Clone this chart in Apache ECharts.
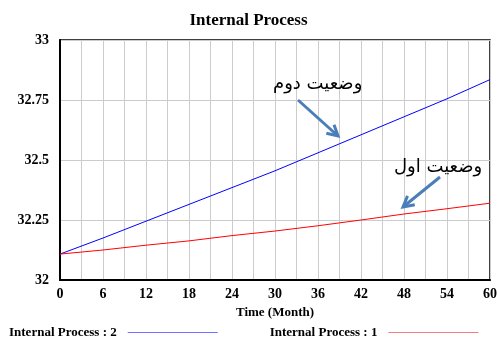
<!DOCTYPE html>
<html><head><meta charset="utf-8">
<script src="https://cdn.jsdelivr.net/npm/echarts@6/dist/echarts.min.js"></script>
<style>html,body{margin:0;padding:0;background:#fff}#c{width:497px;height:338px}</style>
</head><body><div id="c"></div>
<script>
const months = [0, 6, 12, 18, 24, 30, 36, 42, 48, 54, 60];
const process2 = [32.108, 32.175, 32.245, 32.315, 32.385, 32.455, 32.53, 32.605, 32.68, 32.755, 32.835];
const process1 = [32.108, 32.125, 32.145, 32.163, 32.185, 32.204, 32.226, 32.25, 32.275, 32.297, 32.32];
const yTicks = [32, 32.25, 32.5, 32.75, 33];
const seriesNames = ['Internal Process : 2', 'Internal Process : 1'];
const notes = ['وضعیت دوم', 'وضعیت اول'];

const serif = 'Liberation Serif';
const chart = echarts.init(document.getElementById('c'));
const arrowColor = '#4a7ebb';
function arrow(x1, y1, x2, y2) {
  const a = Math.atan2(y2 - y1, x2 - x1), L = 12, s = 0.5;
  return [
    {type: 'line', shape: {x1, y1, x2, y2}, style: {stroke: arrowColor, lineWidth: 3}, z: 10},
    {type: 'polyline', shape: {points: [
      [x2 - L * Math.cos(a - s), y2 - L * Math.sin(a - s)], [x2, y2],
      [x2 - L * Math.cos(a + s), y2 - L * Math.sin(a + s)]]},
      style: {stroke: arrowColor, lineWidth: 3, fill: null}, z: 10}
  ];
}
chart.setOption({
  animation: false,
  title: {text: 'Internal Process', left: 'center', top: 7,
    textStyle: {fontFamily: serif, fontWeight: 'bold', fontSize: 17, color: '#000'}},
  grid: {left: 60, right: 7, top: 40, bottom: 58, show: true, borderColor: '#000', borderWidth: 1.5,
    outerBoundsMode: 'none', containLabel: false},
  xAxis: {type: 'value', min: 0, max: 60, interval: 3,
    name: 'Time (Month)', nameLocation: 'middle', nameGap: 25,
    nameTextStyle: {fontFamily: serif, fontWeight: 'bold', fontSize: 13, color: '#000'},
    axisLine: {lineStyle: {color: '#000', width: 2}}, axisTick: {show: false},
    axisLabel: {fontFamily: serif, fontWeight: 'bold', fontSize: 14, color: '#000', margin: 7,
      formatter: v => (v % 6 === 0 ? String(v) : '')},
    splitLine: {lineStyle: {color: '#cccccc', width: 1}}},
  yAxis: {type: 'value', min: yTicks[0], max: yTicks[yTicks.length - 1], interval: 0.25,
    axisLine: {show: true, lineStyle: {color: '#000', width: 2}}, axisTick: {show: false},
    axisLabel: {fontFamily: serif, fontWeight: 'bold', fontSize: 14, color: '#000', margin: 11,
      formatter: v => String(+v.toFixed(2))},
    splitLine: {lineStyle: {color: '#cccccc', width: 1}}},
  legend: {left: 4, bottom: -6, align: 'right', itemGap: 52, itemWidth: 90, itemHeight: 1,
    icon: 'rect', textStyle: {fontFamily: serif, fontWeight: 'bold', fontSize: 13, color: '#000', padding: [0, 6, 0, 0]},
    data: seriesNames},
  series: [
    {name: seriesNames[0], type: 'line', data: months.map((m, i) => [m, process2[i]]),
      showSymbol: false, lineStyle: {color: '#0000ff', width: 1}, itemStyle: {color: '#7070ff'}},
    {name: seriesNames[1], type: 'line', data: months.map((m, i) => [m, process1[i]]),
      showSymbol: false, lineStyle: {color: '#ff0000', width: 1}, itemStyle: {color: '#f08080'}}
  ],
  graphic: [
    {type: 'text', left: 273, top: 75, style: {text: notes[0], font: '18px "DejaVu Sans"', fill: '#000'}, z: 10},
    {type: 'text', left: 394, top: 158, style: {text: notes[1], font: '18px "DejaVu Sans"', fill: '#000'}, z: 10},
    ...arrow(298, 100, 338, 136),
    ...arrow(440, 177, 403, 207)
  ]
});
</script></body></html>
